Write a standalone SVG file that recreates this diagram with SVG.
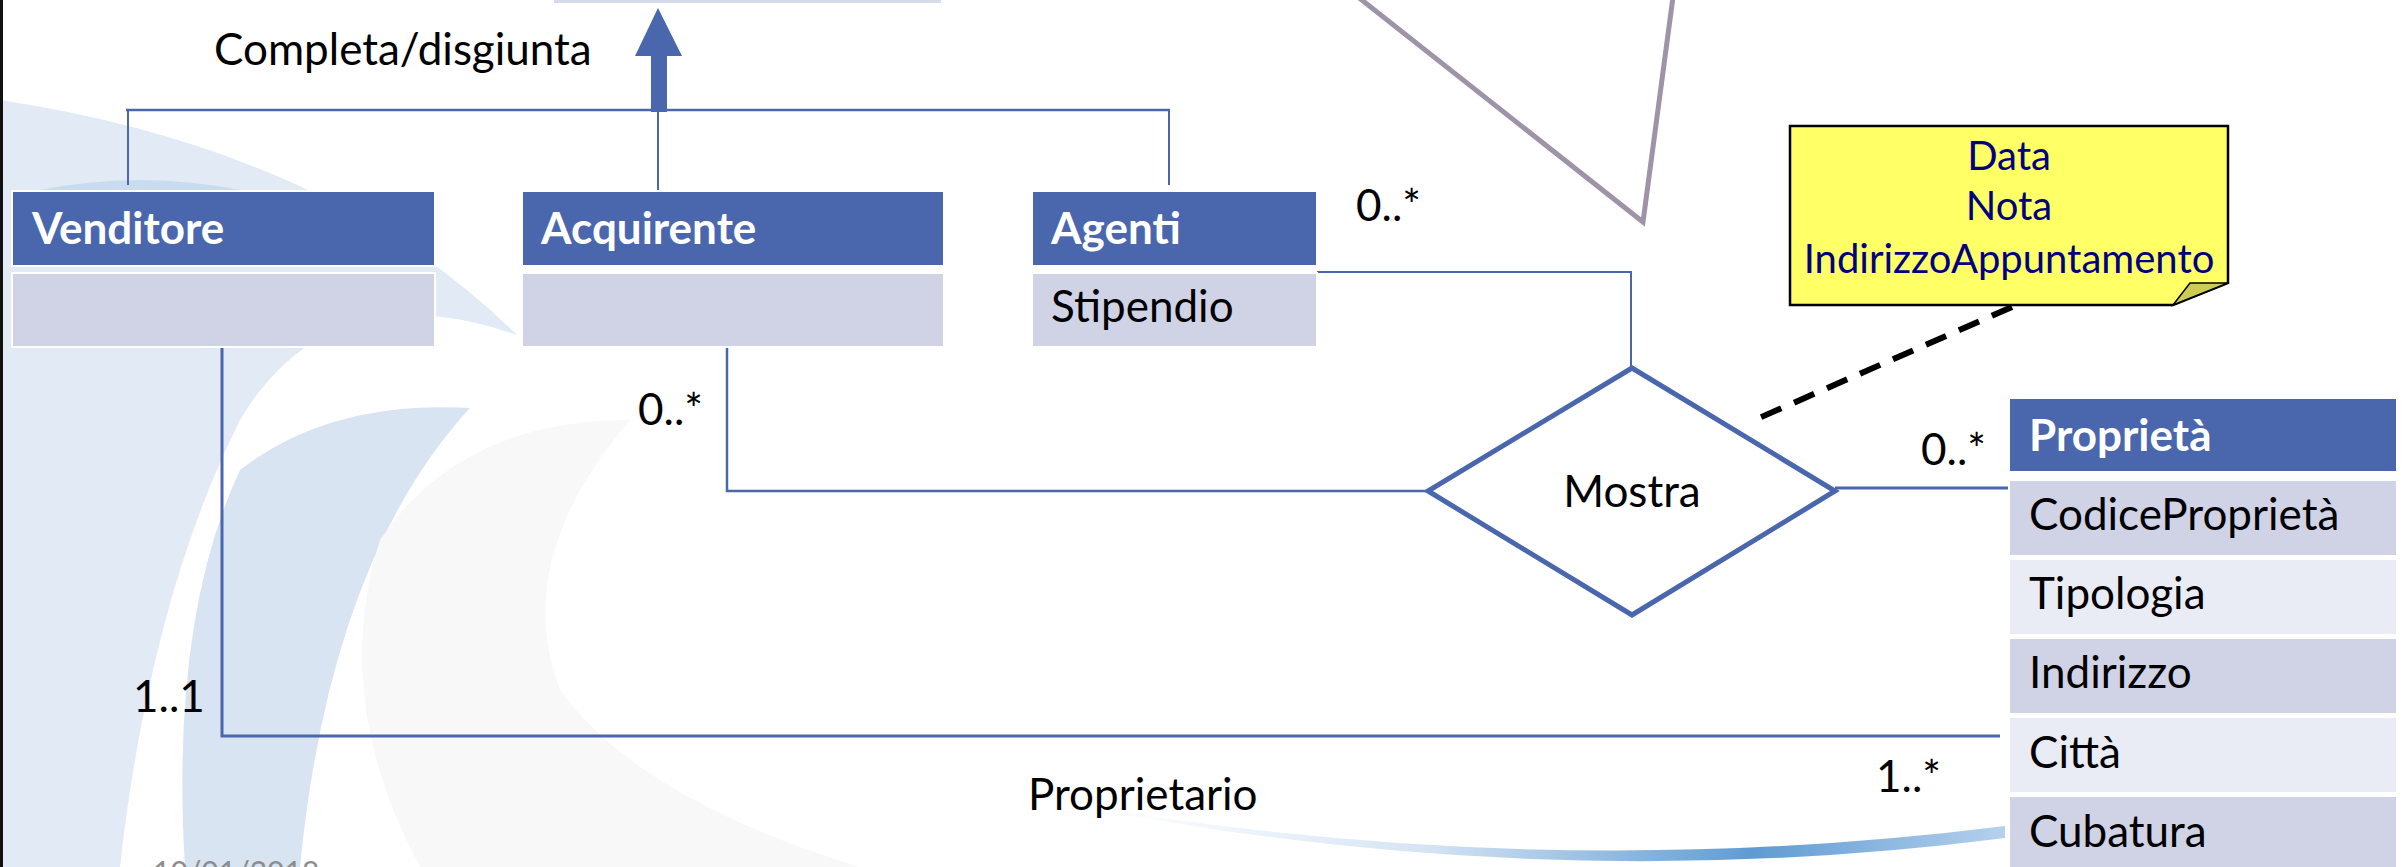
<svg xmlns="http://www.w3.org/2000/svg" width="2407" height="867" viewBox="0 0 2407 867">
<style>
text{font-family:Lato,"Liberation Sans",sans-serif;font-size:44px;fill:#000}
.hdr{fill:#4A67AD;stroke:#fff;stroke-width:2}
.bd{fill:#CFD3E5;stroke:#fff;stroke-width:2}
.lt{fill:#E9EBF5;stroke:#fff;stroke-width:2}
.ht{fill:#fff;font-weight:bold}
.ln{fill:none;stroke:#4A67AD;stroke-width:2.5}
.nt{fill:#000080;font-size:40px}
</style>
<defs>
<linearGradient id="arc" x1="1110" y1="0" x2="2005" y2="0" gradientUnits="userSpaceOnUse">
<stop offset="0" stop-color="#FFFFFF"/>
<stop offset="0.35" stop-color="#D6E5F3"/>
<stop offset="0.72" stop-color="#5E9BD3"/>
<stop offset="1" stop-color="#B6D1EC"/>
</linearGradient>
</defs>
<rect width="2407" height="867" fill="#fff"/>
<g id="background">
<path d="M0,100 Q330,150 517,335 Q330,270 240,420 Q150,600 120,867 L0,867 Z" fill="#E2EBF5"/>
<path d="M470,408 Q330,560 300,867 L185,867 Q170,620 240,470 Q330,400 470,408 Z" fill="#D8E4F1"/>
<path d="M630,420 Q510,560 560,690 Q640,800 860,867 L420,867 Q330,700 380,540 Q460,420 630,420 Z" fill="#F8F8F8"/>
<path d="M40,190 Q140,170 240,190 Z" fill="#C9DCEF"/>
<path d="M1110,810 Q1560,882 2005,826 L2005,838 Q1560,895 1110,812 Z" fill="url(#arc)"/>
<rect x="0" y="0" width="3" height="867" fill="#111"/>
<rect x="554" y="0" width="387" height="3" fill="#D6DBEC"/>
<text x="153" y="883" style="font-size:30px;fill:#8C8C8C">10/01/2018</text>
</g>
<g id="connectors">
<line x1="126" y1="110" x2="1170" y2="110" class="ln" stroke-width="3"/>
<line x1="128" y1="110" x2="128" y2="185" class="ln" style="stroke-width:2"/>
<line x1="658" y1="110" x2="658" y2="191" class="ln" style="stroke-width:2"/>
<line x1="1169" y1="110" x2="1169" y2="185" class="ln" style="stroke-width:2"/>
<rect x="651" y="54" width="16" height="58" fill="#4A67AD"/>
<polygon points="658,8 635,56 682,56" fill="#4A67AD"/>
<polyline points="1317,272 1631,272 1631,368" class="ln" style="stroke-width:2"/>
<polyline points="727,347 727,491 1428,491" class="ln"/>
<line x1="1835" y1="488" x2="2009" y2="488" class="ln" style="stroke-width:3"/>
<polyline points="222,347 222,736 2000,736" class="ln" style="stroke-width:3"/>
<line x1="2012" y1="307" x2="1750" y2="422" stroke="#000" stroke-width="6" stroke-dasharray="22,14"/>
<text x="214" y="65">Completa/disgiunta</text>
<text x="1356" y="221">0..*</text>
<text x="638" y="425">0..*</text>
<text x="1921" y="465">0..*</text>
<text x="133" y="712">1..1</text>
<text x="1876" y="792">1..*</text>
<text x="1028" y="810">Proprietario</text>
</g>
<g id="triangle">
<polyline points="1358,-3 1643,222 1673,-3" fill="none" stroke="#9F93A7" stroke-width="5" stroke-linejoin="miter"/>
</g>
<g id="Venditore">
<rect x="12" y="191" width="423" height="75" class="hdr"/>
<rect x="12" y="273" width="423" height="74" class="bd"/>
<text x="32" y="244" class="ht">Venditore</text>
</g>
<g id="Acquirente">
<rect x="522" y="191" width="422" height="75" class="hdr"/>
<rect x="522" y="273" width="422" height="74" class="bd"/>
<text x="541" y="244" class="ht">Acquirente</text>
</g>
<g id="Agenti">
<rect x="1032" y="191" width="285" height="75" class="hdr"/>
<rect x="1032" y="273" width="285" height="74" class="bd"/>
<text x="1051" y="244" class="ht">Agenti</text>
<text x="1051" y="322">Stipendio</text>
</g>
<g id="Mostra">
<polygon points="1632,368 1835,491 1632,615 1428,491" fill="#fff" stroke="#4A67AD" stroke-width="5"/>
<text x="1632" y="507" text-anchor="middle">Mostra</text>
</g>
<g id="Nota">
<polygon points="1790,126 2228,126 2228,283 2173,305 1790,305" fill="#FFFF66" stroke="#000" stroke-width="2.5"/>
<polygon points="2173,305 2190,283 2228,283" fill="#CCCC55" stroke="#000" stroke-width="1.5"/>
<text x="2009" y="170" text-anchor="middle" class="nt">Data</text>
<text x="2009" y="220" text-anchor="middle" class="nt">Nota</text>
<text x="2009" y="273" text-anchor="middle" class="nt">IndirizzoAppuntamento</text>
</g>
<g id="Proprieta">
<rect x="2009" y="398" width="388" height="74" class="hdr"/>
<rect x="2009" y="480" width="388" height="76" class="bd"/>
<rect x="2009" y="559" width="388" height="76" class="lt"/>
<rect x="2009" y="638" width="388" height="76" class="bd"/>
<rect x="2009" y="717" width="388" height="76" class="lt"/>
<rect x="2009" y="796" width="388" height="80" class="bd"/>
<text x="2029" y="451" class="ht">Proprietà</text>
<text x="2029" y="530">CodiceProprietà</text>
<text x="2029" y="609">Tipologia</text>
<text x="2029" y="688">Indirizzo</text>
<text x="2029" y="768">Città</text>
<text x="2029" y="847">Cubatura</text>
</g>
</svg>
